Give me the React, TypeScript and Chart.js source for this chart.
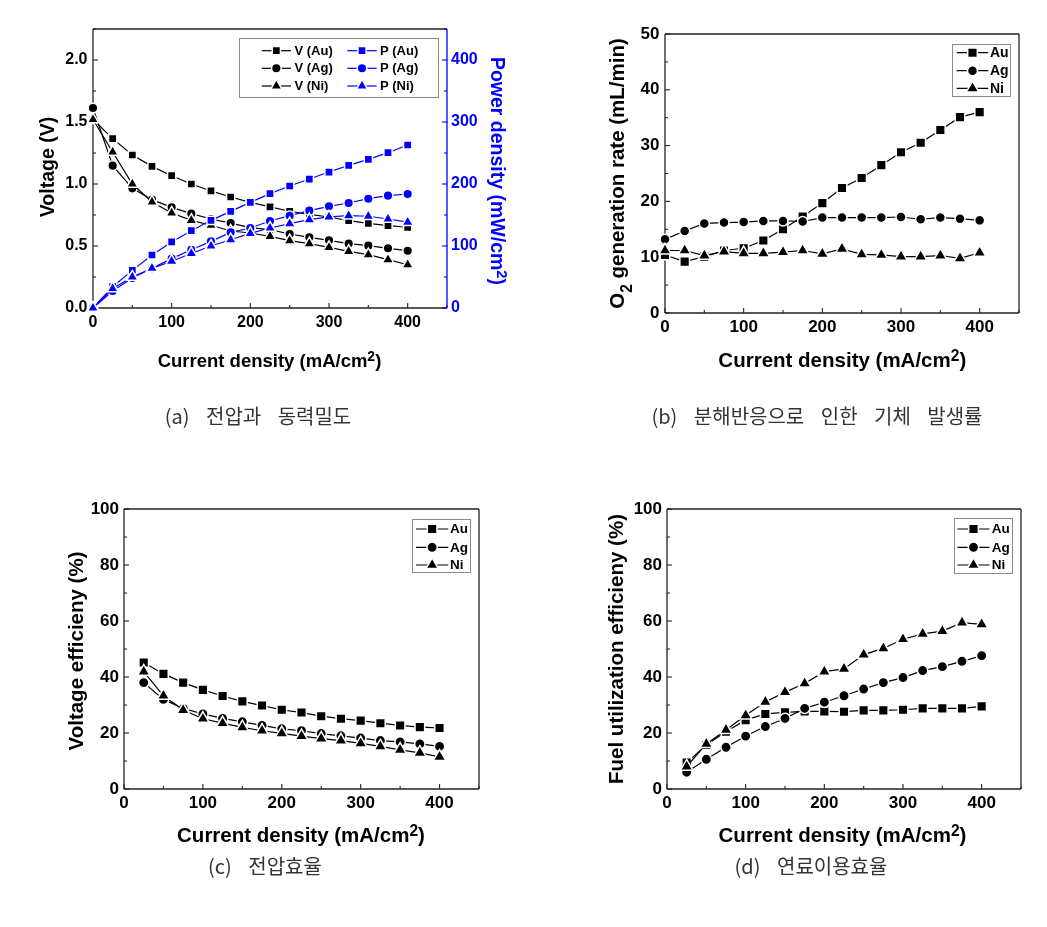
import React, { useEffect, useRef } from "react";
import { Chart, registerables } from "chart.js";

Chart.register(...registerables);

const W = 1047;
const H = 927;
const FONT = '"Liberation Sans", Arial, Helvetica, sans-serif';
const BLUE = "#0000ff";
const BLACK = "#000000";

// ---------- data ----------
const currentDensity = [0, 25, 50, 75, 100, 125, 150, 175, 200, 225, 250, 275, 300, 325, 350, 375, 400];
const currentDensityEff = [25, 50, 75, 100, 125, 150, 175, 200, 225, 250, 275, 300, 325, 350, 375, 400];

// (a) voltage (V) and power density (mW/cm2)
const voltAu = [1.52, 1.366, 1.234, 1.142, 1.067, 1.0, 0.944, 0.895, 0.852, 0.815, 0.78, 0.755, 0.734, 0.704, 0.683, 0.664, 0.651];
const voltAg = [1.613, 1.148, 0.965, 0.874, 0.812, 0.761, 0.718, 0.685, 0.648, 0.632, 0.597, 0.57, 0.546, 0.519, 0.503, 0.481, 0.462];
const voltNi = [1.52, 1.258, 1.0, 0.855, 0.766, 0.707, 0.667, 0.621, 0.605, 0.578, 0.543, 0.519, 0.489, 0.457, 0.43, 0.39, 0.349];
const powerAu = [0, 34.4, 60.7, 85.5, 106.5, 124.7, 141.4, 155.9, 170.4, 184.4, 196.8, 208, 219.3, 230, 239.8, 250.5, 262.9];
const powerAg = [0, 27.4, 48.4, 64, 79.6, 94, 107.5, 122, 129, 140.3, 148.9, 157, 164, 169.3, 176.3, 181.2, 183.9];
const powerNi = [0, 31.5, 50, 64, 75.5, 88, 100, 110, 120.4, 129, 136, 142.5, 147, 149, 148, 143.5, 138.5];

// (b) O2 generation rate (mL/min)
const o2Au = [10.4, 9.2, 10.1, 11.2, 11.6, 13.0, 15.0, 17.3, 19.7, 22.4, 24.2, 26.5, 28.8, 30.5, 32.8, 35.1, 36.0];
const o2Ag = [13.2, 14.7, 16.05, 16.2, 16.3, 16.5, 16.5, 16.4, 17.1, 17.1, 17.1, 17.1, 17.2, 16.8, 17.1, 16.9, 16.6];
const o2Ni = [11.2, 11.2, 10.3, 11.0, 10.7, 10.7, 10.9, 11.2, 10.6, 11.5, 10.5, 10.4, 10.1, 10.1, 10.3, 9.8, 10.8];

// (c) voltage efficiency (%)
const veAu = [45.2, 41.1, 38.0, 35.4, 33.2, 31.3, 29.8, 28.3, 27.3, 26.0, 25.1, 24.4, 23.5, 22.7, 22.1, 21.8];
const veAg = [38.0, 32.0, 28.8, 26.8, 25.2, 24.0, 22.7, 21.5, 20.8, 19.8, 19.0, 18.2, 17.3, 16.8, 16.1, 15.2];
const veNi = [41.9, 33.3, 28.2, 25.1, 23.5, 22.0, 20.8, 19.9, 18.9, 18.0, 17.3, 16.3, 15.2, 14.0, 12.9, 11.5];

// (d) fuel utilization efficiency (%)
const fuAu = [9.4, 15.7, 20.5, 24.6, 26.8, 27.4, 27.7, 27.7, 27.6, 28.1, 28.1, 28.3, 28.8, 28.8, 28.8, 29.5];
const fuAg = [6.0, 10.6, 14.9, 18.9, 22.3, 25.2, 28.8, 31.0, 33.3, 35.7, 38.0, 39.8, 42.3, 43.7, 45.6, 47.6];
const fuNi = [8.0, 16.1, 21.1, 26.3, 31.1, 34.6, 37.7, 41.9, 42.9, 48.0, 50.2, 53.5, 55.4, 56.4, 59.4, 58.8];

// ticks
const xTicks = [0, 100, 200, 300, 400];
const voltTicks = [0, 0.5, 1.0, 1.5, 2.0];
const powerTicks = [0, 100, 200, 300, 400];
const o2Ticks = [0, 10, 20, 30, 40, 50];
const effTicks = [0, 20, 40, 60, 80, 100];

// captions
const captions = [
  { text: "(a) 전압과 동력밀도", cx: 258, cy: 416 },
  { text: "(b) 분해반응으로 인한 기체 발생률", cx: 817, cy: 416 },
  { text: "(c) 전압효율", cx: 265, cy: 866 },
  { text: "(d) 연료이용효율", cx: 811, cy: 866 },
];

// ---------- helpers ----------
type Seg = { t: string; m?: "sup" | "sub" };

function drawMarker(ctx: CanvasRenderingContext2D, style: string, x: number, y: number, r: number) {
  ctx.beginPath();
  if (style === "circle") {
    ctx.arc(x, y, r, 0, Math.PI * 2);
  } else if (style === "rect") {
    const s = Math.SQRT1_2 * r;
    ctx.rect(x - s, y - s, 2 * s, 2 * s);
  } else {
    ctx.moveTo(x, y - r);
    ctx.lineTo(x + 0.866 * r, y + 0.5 * r);
    ctx.lineTo(x - 0.866 * r, y + 0.5 * r);
    ctx.closePath();
  }
}

function drawRich(ctx: CanvasRenderingContext2D, segs: Seg[], size: number, color: string, cx: number, cy: number, rot: number) {
  ctx.save();
  ctx.translate(cx, cy);
  ctx.rotate(rot);
  ctx.fillStyle = color;
  ctx.textBaseline = "alphabetic";
  ctx.textAlign = "left";
  const items = segs.map((s) => {
    const fs = s.m ? size * 0.76 : size;
    ctx.font = `bold ${fs}px ${FONT}`;
    return { s, fs, w: ctx.measureText(s.t).width };
  });
  const total = items.reduce((a, b) => a + b.w, 0);
  let x = -total / 2;
  const base = size * 0.36;
  for (const it of items) {
    ctx.font = `bold ${it.fs}px ${FONT}`;
    const dy = it.s.m === "sup" ? -size * 0.3 : it.s.m === "sub" ? size * 0.4 : 0;
    ctx.fillText(it.s.t, x, base + dy);
    x += it.w;
  }
  ctx.restore();
}

type AxisSpec = {
  min: number;
  max: number;
  ticks: number[];
  step: number;
  fmt: (v: number) => string;
  color: string;
  pad: number;
};

type LegendCol = { x0: number; x1: number; tx: number; ds: number[] };

type PanelSpec = {
  id: string;
  area: { l: number; t: number; r: number; b: number };
  tickSize: number;
  x: AxisSpec;
  y: AxisSpec;
  y2?: AxisSpec;
  datasets: any[];
  xTitle: { segs: Seg[]; size: number; cx: number; cy: number };
  yTitle: { segs: Seg[]; size: number; cx: number; cy: number };
  y2Title?: { segs: Seg[]; size: number; cx: number; cy: number };
  legend: { box: number[]; rows: number[]; cols: LegendCol[]; size: number };
};

function series(label: string, xs: number[], ys: number[], style: string, color: string, r: number, axis: string, order: number) {
  return {
    label,
    data: xs.map((x, i) => ({ x, y: ys[i] })),
    borderColor: color,
    backgroundColor: color,
    borderWidth: 1.2,
    pointStyle: style,
    pointRadius: r,
    pointHoverRadius: r,
    pointBackgroundColor: color,
    pointBorderColor: "#ffffff",
    pointBorderWidth: 1.5,
    tension: 0,
    clip: false,
    yAxisID: axis,
    order,
  };
}

function minorTicks(a: AxisSpec) {
  const out: number[] = [];
  for (let v = a.min + a.step / 2; v < a.max + 1e-9; v += a.step) out.push(v);
  return out;
}

function decoPlugin(spec: PanelSpec) {
  return {
    id: "deco_" + spec.id,
    beforeDatasetsDraw(chart: any) {
      const ctx: CanvasRenderingContext2D = chart.ctx;
      const { left, right, top, bottom } = chart.chartArea;
      const xs = chart.scales.x;
      const ys = chart.scales.y;
      const y2s = chart.scales.y2;
      ctx.save();
      ctx.lineWidth = 1.3;
      const seg = (x1: number, y1: number, x2: number, y2: number, c: string) => {
        ctx.strokeStyle = c;
        ctx.beginPath();
        ctx.moveTo(x1, y1);
        ctx.lineTo(x2, y2);
        ctx.stroke();
      };
      const frame = "#222";
      seg(left, top, right, top, frame);
      seg(left, bottom, right, bottom, frame);
      seg(left, top, left, bottom, frame);
      seg(right, top, right, bottom, spec.y2 ? BLUE : frame);
      ctx.lineWidth = 1.1;
      for (const v of spec.x.ticks) {
        const p = xs.getPixelForValue(v);
        seg(p, bottom, p, bottom - 5, frame);
      }
      for (const v of minorTicks(spec.x)) {
        const p = xs.getPixelForValue(v);
        seg(p, bottom, p, bottom - 3, frame);
      }
      for (const v of spec.y.ticks) {
        const p = ys.getPixelForValue(v);
        seg(left, p, left + 5, p, frame);
      }
      for (const v of minorTicks(spec.y)) {
        const p = ys.getPixelForValue(v);
        seg(left, p, left + 3, p, frame);
      }
      if (spec.y2 && y2s) {
        for (const v of spec.y2.ticks) {
          const p = y2s.getPixelForValue(v);
          seg(right, p, right - 5, p, BLUE);
        }
        for (const v of minorTicks(spec.y2)) {
          const p = y2s.getPixelForValue(v);
          seg(right, p, right - 3, p, BLUE);
        }
      }
      ctx.restore();
    },
    afterDraw(chart: any) {
      const ctx: CanvasRenderingContext2D = chart.ctx;
      ctx.save();
      const xt = spec.xTitle;
      drawRich(ctx, xt.segs, xt.size, BLACK, xt.cx, xt.cy, 0);
      const yt = spec.yTitle;
      drawRich(ctx, yt.segs, yt.size, BLACK, yt.cx, yt.cy, -Math.PI / 2);
      if (spec.y2Title) {
        const t = spec.y2Title;
        drawRich(ctx, t.segs, t.size, BLUE, t.cx, t.cy, Math.PI / 2);
      }
      // legend
      const lg = spec.legend;
      const [bl, bt, br, bb] = lg.box;
      ctx.fillStyle = "#ffffff";
      ctx.fillRect(bl, bt, br - bl, bb - bt);
      ctx.strokeStyle = "#8a8a8a";
      ctx.lineWidth = 1;
      ctx.strokeRect(bl, bt, br - bl, bb - bt);
      for (const col of lg.cols) {
        col.ds.forEach((di, ri) => {
          const ds = chart.data.datasets[di];
          const y = lg.rows[ri];
          ctx.strokeStyle = ds.borderColor;
          ctx.lineWidth = 1.2;
          ctx.beginPath();
          ctx.moveTo(col.x0, y);
          ctx.lineTo(col.x1, y);
          ctx.stroke();
          const mx = (col.x0 + col.x1) / 2;
          drawMarker(ctx, ds.pointStyle, mx, y, ds.pointRadius);
          ctx.fillStyle = ds.pointBackgroundColor;
          ctx.fill();
          ctx.strokeStyle = "#ffffff";
          ctx.lineWidth = 1.5;
          ctx.stroke();
          ctx.fillStyle = BLACK;
          ctx.font = `bold ${lg.size}px ${FONT}`;
          ctx.textBaseline = "middle";
          ctx.textAlign = "left";
          ctx.fillText(ds.label, col.tx, y + 0.5);
        });
      }
      ctx.restore();
    },
  };
}

function buildChart(canvas: HTMLCanvasElement, spec: PanelSpec) {
  const yW = 70;
  const xH = 50;
  const y2W = spec.y2 ? 70 : 0;
  const a = spec.area;
  const tickFont = { family: FONT, size: spec.tickSize, weight: "bold" as const };
  const axisCommon = (ax: AxisSpec) => ({
    type: "linear" as const,
    min: ax.min,
    max: ax.max,
    afterBuildTicks: (s: any) => {
      s.ticks = ax.ticks.map((v) => ({ value: v }));
    },
    grid: { display: false, drawTicks: false },
    border: { display: false },
    ticks: {
      color: ax.color,
      padding: ax.pad,
      font: tickFont,
      autoSkip: false,
      maxRotation: 0,
      callback: (v: any) => ax.fmt(Number(v)),
    },
  });
  const scales: any = {
    x: {
      ...axisCommon(spec.x),
      position: "bottom",
      afterFit: (s: any) => {
        s.height = xH;
      },
    },
    y: {
      ...axisCommon(spec.y),
      position: "left",
      afterFit: (s: any) => {
        s.width = yW;
      },
    },
  };
  if (spec.y2) {
    scales.y2 = {
      ...axisCommon(spec.y2),
      position: "right",
      afterFit: (s: any) => {
        s.width = y2W;
      },
    };
  }
  return new Chart(canvas, {
    type: "line",
    data: { datasets: spec.datasets },
    options: {
      responsive: false,
      maintainAspectRatio: false,
      animation: false,
      devicePixelRatio: 1,
      events: [],
      layout: {
        padding: {
          left: a.l - yW,
          top: a.t,
          right: W - a.r - y2W,
          bottom: H - a.b - xH,
        },
      },
      plugins: { legend: { display: false }, tooltip: { enabled: false }, title: { display: false } },
      scales,
    },
    plugins: [decoPlugin(spec)],
  });
}

const fmtInt = (v: number) => String(Math.round(v));
const fmt1 = (v: number) => v.toFixed(1);
const currentTitle: Seg[] = [{ t: "Current density (mA/cm" }, { t: "2", m: "sup" }, { t: ")" }];

function xAxis(pad: number): AxisSpec {
  return { min: 0, max: 450, ticks: xTicks, step: 100, fmt: fmtInt, color: BLACK, pad };
}

const panels: PanelSpec[] = [
  {
    id: "a",
    area: { l: 93, t: 29, r: 447, b: 308 },
    tickSize: 16,
    x: xAxis(5),
    y: { min: 0, max: 2.25, ticks: voltTicks, step: 0.5, fmt: fmt1, color: BLACK, pad: 5.5 },
    y2: { min: 0, max: 450, ticks: powerTicks, step: 100, fmt: fmtInt, color: BLUE, pad: 4 },
    datasets: [
      series("V (Au)", currentDensity, voltAu, "rect", BLACK, 5.8, "y", 6),
      series("V (Ag)", currentDensity, voltAg, "circle", BLACK, 4.8, "y", 5),
      series("V (Ni)", currentDensity, voltNi, "triangle", BLACK, 6.6, "y", 4),
      series("P (Au)", currentDensity, powerAu, "rect", BLUE, 5.8, "y2", 3),
      series("P (Ag)", currentDensity, powerAg, "circle", BLUE, 4.8, "y2", 2),
      series("P (Ni)", currentDensity, powerNi, "triangle", BLUE, 6.6, "y2", 1),
    ],
    xTitle: { segs: currentTitle, size: 18.5, cx: 269.5, cy: 360.3 },
    yTitle: { segs: [{ t: "Voltage (V)" }], size: 19.5, cx: 46.7, cy: 167 },
    y2Title: { segs: [{ t: "Power density (mW/cm" }, { t: "2", m: "sup" }, { t: ")" }], size: 19.5, cx: 498.3, cy: 171 },
    legend: {
      box: [239.5, 38.5, 438.5, 97.5],
      rows: [50.7, 68.3, 86],
      cols: [
        { x0: 261.7, x1: 291, tx: 294.5, ds: [0, 1, 2] },
        { x0: 347.3, x1: 376.7, tx: 380, ds: [3, 4, 5] },
      ],
      size: 13,
    },
  },
  {
    id: "b",
    area: { l: 665, t: 34, r: 1019, b: 313 },
    tickSize: 17,
    x: xAxis(4),
    y: { min: 0, max: 50, ticks: o2Ticks, step: 10, fmt: fmtInt, color: BLACK, pad: 5.5 },
    datasets: [
      series("Au", currentDensity, o2Au, "rect", BLACK, 6.8, "y", 3),
      series("Ag", currentDensity, o2Ag, "circle", BLACK, 5, "y", 2),
      series("Ni", currentDensity, o2Ni, "triangle", BLACK, 7.2, "y", 1),
    ],
    xTitle: { segs: currentTitle, size: 20.5, cx: 842.3, cy: 359.7 },
    yTitle: { segs: [{ t: "O" }, { t: "2", m: "sub" }, { t: " generation rate (mL/min)" }], size: 20.5, cx: 616.7, cy: 173.5 },
    legend: {
      box: [952.5, 44.5, 1010.5, 96.5],
      rows: [52.7, 70.7, 88.3],
      cols: [{ x0: 956.7, x1: 988.3, tx: 990, ds: [0, 1, 2] }],
      size: 14,
    },
  },
  {
    id: "c",
    area: { l: 124, t: 509, r: 479, b: 789 },
    tickSize: 17,
    x: xAxis(4),
    y: { min: 0, max: 100, ticks: effTicks, step: 20, fmt: fmtInt, color: BLACK, pad: 5 },
    datasets: [
      series("Au", currentDensityEff, veAu, "rect", BLACK, 6.8, "y", 3),
      series("Ag", currentDensityEff, veAg, "circle", BLACK, 5.2, "y", 2),
      series("Ni", currentDensityEff, veNi, "triangle", BLACK, 7.2, "y", 1),
    ],
    xTitle: { segs: currentTitle, size: 20.5, cx: 301, cy: 835 },
    yTitle: { segs: [{ t: "Voltage efficieny (%)" }], size: 20.5, cx: 75.5, cy: 651 },
    legend: {
      box: [412.5, 519.5, 470.5, 572.5],
      rows: [529, 547.3, 565],
      cols: [{ x0: 416, x1: 448.3, tx: 450, ds: [0, 1, 2] }],
      size: 13.5,
    },
  },
  {
    id: "d",
    area: { l: 667, t: 509, r: 1021, b: 789 },
    tickSize: 17,
    x: xAxis(4),
    y: { min: 0, max: 100, ticks: effTicks, step: 20, fmt: fmtInt, color: BLACK, pad: 5 },
    datasets: [
      series("Au", currentDensityEff, fuAu, "rect", BLACK, 6.8, "y", 3),
      series("Ag", currentDensityEff, fuAg, "circle", BLACK, 5.2, "y", 2),
      series("Ni", currentDensityEff, fuNi, "triangle", BLACK, 7.2, "y", 1),
    ],
    xTitle: { segs: currentTitle, size: 20.5, cx: 842.5, cy: 835 },
    yTitle: { segs: [{ t: "Fuel utilization efficieny (%)" }], size: 20.5, cx: 615.5, cy: 649 },
    legend: {
      box: [954.5, 518.5, 1012.5, 573.5],
      rows: [529, 547.3, 565],
      cols: [{ x0: 957.5, x1: 989.5, tx: 991.7, ds: [0, 1, 2] }],
      size: 13.5,
    },
  },
];

function PanelCanvas({ spec }: { spec: PanelSpec }) {
  const ref = useRef<HTMLCanvasElement | null>(null);
  useEffect(() => {
    if (!ref.current) return;
    const chart = buildChart(ref.current, spec);
    return () => chart.destroy();
  }, [spec]);
  return (
    <canvas
      ref={ref}
      width={W}
      height={H}
      style={{ position: "absolute", left: 0, top: 0, width: W, height: H, pointerEvents: "none" }}
    />
  );
}

export default function App() {
  return (
    <div style={{ position: "absolute", left: 0, top: 0, width: W, height: H, background: "#ffffff", overflow: "hidden" }}>
      {panels.map((p) => (
        <PanelCanvas key={p.id} spec={p} />
      ))}
      {captions.map((c) => (
        <div
          key={c.text}
          style={{
            position: "absolute",
            left: c.cx,
            top: c.cy - 14,
            transform: "translateX(-50%)",
            whiteSpace: "nowrap",
            fontFamily: '"Noto Sans CJK KR", sans-serif',
            fontSize: 20,
            lineHeight: "28px",
            wordSpacing: 12,
            color: "#333",
          }}
        >
          {c.text}
        </div>
      ))}
    </div>
  );
}
